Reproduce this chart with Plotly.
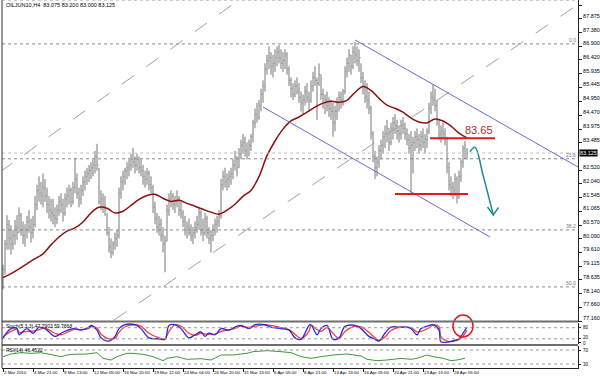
import plotly.graph_objects as go

# ---------------- data ----------------
high = [79.17,80.05,80.92,80.75,80.57,80.40,80.75,80.92,81.20,81.00,
        80.70,80.60,80.90,81.10,80.80,80.90,81.60,82.00,82.30,82.10,
        82.40,82.20,81.90,81.60,81.50,81.50,81.20,81.30,81.60,81.70,
        81.50,81.70,81.90,82.00,81.90,82.10,82.95,82.40,81.90,82.00,
        82.30,82.50,82.60,82.70,82.80,82.90,83.20,83.45,82.60,81.80,
        81.70,81.60,81.00,80.50,80.10,80.00,80.30,80.40,81.90,82.30,
        82.50,82.60,82.80,82.90,83.10,83.30,83.00,83.10,83.00,82.90,
        82.70,82.50,82.60,82.50,82.30,82.00,81.40,81.00,80.90,80.80,
        80.50,80.20,81.30,81.70,81.80,81.70,81.60,81.80,81.60,81.40,
        81.10,80.90,80.70,80.80,80.60,80.50,80.70,80.90,81.20,81.10,
        80.80,81.00,80.90,80.50,80.40,80.60,80.80,80.90,81.10,82.20,
        82.50,82.60,82.40,82.50,82.60,82.90,83.20,83.00,83.30,83.60,
        83.80,83.70,83.50,83.60,83.80,84.30,84.70,84.90,85.00,85.40,
        85.70,86.30,86.60,86.90,86.70,86.60,86.80,86.90,86.95,86.80,
        86.70,86.80,86.70,86.20,85.80,85.60,85.70,85.80,85.60,85.30,
        85.20,85.50,85.60,85.30,85.70,86.00,86.20,85.80,86.30,85.90,
        85.40,85.20,85.30,85.10,85.00,84.90,84.80,85.10,85.30,85.30,
        85.40,86.20,86.50,86.80,86.60,86.90,87.06,86.90,86.80,86.30,
        86.00,85.70,85.60,85.30,84.80,83.90,83.20,83.00,83.40,83.60,
        83.90,84.10,84.30,84.00,84.20,84.40,84.50,84.30,84.10,84.30,
        84.40,84.20,84.00,83.80,83.90,83.70,83.90,84.00,83.80,83.90,
        84.00,83.80,84.00,84.90,85.30,85.55,85.40,85.00,84.30,84.10,
        84.20,84.00,83.70,82.80,82.30,82.10,82.40,82.30,82.50,82.90,
        83.40,83.55,83.30]
low = [78.29,78.82,79.70,79.70,79.52,79.70,79.87,80.05,80.30,80.20,
       79.90,79.80,80.10,80.30,79.95,80.10,80.50,81.10,81.40,81.30,
       81.20,81.40,81.00,80.80,80.70,80.60,80.50,80.60,80.90,81.00,
       80.70,80.90,81.20,81.30,81.20,81.30,81.70,81.50,81.20,81.30,
       81.60,81.80,82.00,82.10,82.20,82.30,82.40,82.50,81.30,81.10,
       81.00,80.90,80.20,79.60,79.40,79.50,79.70,79.80,80.10,81.50,
       81.80,82.00,82.20,82.30,82.50,82.60,82.40,82.50,82.40,82.30,
       82.00,81.90,82.00,81.80,81.70,81.00,80.60,80.30,80.20,80.00,
       79.60,78.90,80.00,80.90,81.20,81.10,81.00,81.20,80.90,80.80,
       80.50,80.20,80.10,80.20,80.00,79.90,80.10,80.30,80.40,80.20,
       80.00,80.20,80.10,79.90,79.60,80.00,80.20,80.30,80.50,80.80,
       81.80,81.90,81.80,81.90,82.00,82.20,82.50,82.30,82.60,82.90,
       83.10,83.00,82.90,83.00,83.20,83.50,84.00,84.20,84.30,84.60,
       84.90,85.30,85.90,86.10,85.90,85.80,86.00,86.20,86.30,86.10,
       86.00,86.10,85.90,85.50,85.10,85.00,85.10,85.20,84.90,84.60,
       84.50,84.80,84.90,84.60,84.90,85.30,85.50,84.30,85.50,85.00,
       84.70,84.50,84.60,84.40,84.30,83.70,83.90,84.30,84.60,84.70,
       84.80,85.20,85.80,86.00,85.90,86.10,86.30,86.20,86.00,85.60,
       85.20,84.90,84.70,84.50,83.60,82.80,82.20,82.30,82.60,82.90,
       83.10,83.30,83.50,83.20,83.40,83.60,83.80,83.60,83.50,83.60,
       83.80,83.60,83.40,83.10,81.70,82.40,83.20,83.30,83.10,83.20,
       83.30,83.10,83.30,83.80,84.50,84.80,84.60,84.10,83.60,83.50,
       83.60,83.40,82.40,81.80,81.60,81.50,81.60,81.34,81.50,82.10,
       82.60,82.90,82.90]
close = [79.00,79.90,80.60,80.10,79.90,80.20,80.50,80.30,80.90,80.40,
         80.20,80.40,80.70,80.50,80.30,80.60,81.30,81.80,81.70,81.60,
         81.90,81.60,81.30,81.10,81.00,80.90,80.80,81.10,81.40,81.30,
         81.00,81.50,81.60,81.80,81.40,81.90,82.20,81.70,81.50,81.80,
         82.10,82.30,82.40,82.50,82.60,82.70,83.00,82.70,81.40,81.50,
         81.20,81.10,80.30,79.80,79.60,79.90,80.10,80.20,81.70,82.10,
         82.30,82.50,82.60,82.70,82.90,82.80,82.70,82.90,82.60,82.50,
         82.30,82.20,82.40,82.00,81.90,81.20,80.80,80.50,80.60,80.20,
         79.90,80.00,81.10,81.50,81.60,81.30,81.40,81.50,81.10,81.00,
         80.70,80.40,80.50,80.30,80.20,80.30,80.50,80.60,81.00,80.40,
         80.30,80.80,80.30,80.10,80.20,80.40,80.60,80.70,80.90,82.00,
         82.30,82.10,82.20,82.30,82.40,82.70,83.00,82.60,83.10,83.40,
         83.50,83.20,83.10,83.40,83.70,84.20,84.50,84.40,84.80,85.20,
         85.50,86.10,86.40,86.50,86.20,86.30,86.50,86.70,86.50,86.30,
         86.40,86.60,86.10,85.70,85.40,85.20,85.50,85.30,85.10,84.90,
         85.00,85.30,85.10,85.00,85.50,85.80,85.70,85.60,85.90,85.20,
         84.90,85.00,84.80,84.70,84.60,84.20,84.60,84.90,85.10,85.00,
         85.30,86.00,86.30,86.60,86.20,86.70,86.60,86.40,86.50,85.80,
         85.50,85.10,85.00,84.70,83.80,83.00,82.60,82.80,83.20,83.40,
         83.70,83.80,84.00,83.50,84.00,84.20,84.10,83.90,83.80,84.10,
         84.00,83.80,83.60,83.30,83.40,83.50,83.70,83.60,83.40,83.70,
         83.50,83.60,83.90,84.70,85.10,85.00,84.80,84.30,83.80,83.90,
         83.80,83.60,82.60,82.00,81.90,81.80,82.20,81.60,82.30,82.80,
         83.30,83.10,83.125]
bars = list(range(len(close)))
opens = [78.60] + close[:-1]

ma_step = 4
ma_vals = [78.71,78.85,79.02,79.20,79.38,79.55,79.87,80.15,80.36,80.47,
           80.68,81.00,81.20,81.17,81.00,81.06,81.27,81.48,81.62,81.66,
           81.52,81.41,81.45,81.34,81.24,81.13,81.03,80.96,81.10,81.31,
           81.59,81.80,82.29,83.03,83.55,83.97,84.26,84.40,84.57,84.75,
           84.89,84.96,84.92,84.99,85.27,85.48,85.34,85.06,84.82,84.71,
           84.57,84.36,84.22,84.19,84.33,84.26,84.08,83.83,83.66]
ma_bars = list(range(0, len(close), ma_step))

stoch_bars = [0,4,7,8,12,15,18,21,26,29,33,36,39,43,44,47,49,53,56,58,
              61,66,69,73,78,81,83,86,89,93,96,99,101,103,106,109,113,116,119,123,
              126,131,134,139,143,146,149,153,154,157,159,162,165,168,171,176,179,183,186,188,
              191,194,198,201,204,207,209,213,215,218,219,223,226,228,230,232]
stoch_main = [25,75,75,42,75,50,83,75,33,50,70,75,67,83,92,67,25,8,33,75,
              96,96,75,25,20,17,92,96,75,25,42,58,33,50,42,75,67,83,92,75,
              96,96,83,75,67,25,17,92,96,42,75,92,17,25,87,92,75,33,17,8,
              50,83,83,83,75,42,75,92,96,67,4,4,13,20,50,83]
stoch_signal = [30,60,72,55,60,62,70,78,50,42,60,72,70,76,86,78,45,20,22,55,
                85,96,88,50,25,20,60,95,88,50,38,50,45,45,45,60,68,76,88,82,
                88,96,92,80,70,45,22,60,92,70,60,80,50,22,60,88,85,55,25,12,
                30,65,82,83,80,58,60,80,95,85,30,5,8,15,35,65]

rsi_bars = [0,4,9,14,19,24,29,32,35,42,47,50,54,57,62,65,70,75,80,82,
            87,92,99,104,109,115,122,125,132,139,144,149,154,159,165,172,179,182,187,192,
            199,204,207,212,215,220,224,227,231]
rsi_vals = [51,58.6,62.4,60.5,62.4,55.7,51,55.7,57.6,58.6,62.4,46.2,41.4,51,60.5,60.5,57.6,51,39.5,46.2,
            51,43.3,45.2,41.4,55.7,55.7,60.5,65.2,68.1,65.2,62.4,51,46.2,51,55.7,58.6,52.9,43.3,39.5,41.4,
            46.2,43.3,46.2,55.7,51,46.2,39.5,41.4,46.45]

date_labels = ["2 Mar 2010", "4 Mar 21:00", "9 Mar 13:00", "12 Mar 05:00", "16 Mar 20:00",
               "19 Mar 12:00", "24 Mar 04:00", "26 Mar 20:00", "31 Mar 13:00", "6 Apr 05:00",
               "8 Apr 21:00", "13 Apr 13:00", "16 Apr 05:00", "20 Apr 21:00", "23 Apr 13:00",
               "28 Apr 05:00"]
date_bars = [0, 15, 30, 45, 60, 75, 90, 105, 120, 135, 150, 165, 180, 195, 210, 225]

price_ticks = [88.355, 87.875, 87.380, 86.900, 86.420, 85.935, 85.445, 84.950, 84.470,
               83.975, 83.485, 82.520, 82.040, 81.545, 81.065, 80.570, 80.090, 79.610,
               79.115, 78.635, 78.140, 77.660, 77.160]
last_price = 83.125
fib_levels = [86.99, 82.92, 80.40, 78.38]
fib_labels = ["0.0", "23.6", "38.2", "50.0"]
stoch_levels = [80, 20, 0]
rsi_levels = [70, 30]
resistance = 83.65
support = 81.67
resistance_span = [213.5, 246]
support_span = [196, 232.5]
chan_upper = [(176, 87.128), (287.5, 82.629)]
chan_lower = [(130, 84.754), (243.5, 80.149)]
dash_mid = [(55.5, 77.209), (287.5, 88.389)]
dash_top = [(-1.5, 82.452), (123.5, 88.83)]
arrow_path = [(233.5, 83.171), (236, 83.327), (240, 82.346), (245.15, 80.929)]
arrow_head = [(242.25, 81.212), (245.15, 80.929), (247.75, 81.194)]
circle_bars = [225, 235]

# ---------------- layout helpers ----------------
W, H = 600, 376
ML, MR, MT, MB = 2, 22, 0, 8
PW, PH = W - ML - MR, H - MT - MB


def py(p):  # pixel y (from top of plot area) -> paper
    return (PH - p) / PH


def pxx(p):
    return (p - ML) / PW


FONT = "Liberation Sans"
fig = go.Figure()

fig.add_trace(go.Ohlc(x=bars, open=opens, high=high, low=low, close=close,
                      increasing_line_color="#767676", decreasing_line_color="#767676",
                      line_width=1, tickwidth=0.25, hoverinfo="skip", xaxis="x", yaxis="y"))
fig.add_trace(go.Scatter(x=ma_bars, y=ma_vals, mode="lines", line=dict(color="#8b1010", width=1.5, shape="spline"),
                         hoverinfo="skip", xaxis="x", yaxis="y"))
fig.add_trace(go.Scatter(x=[a for a, b in arrow_path], y=[b for a, b in arrow_path], mode="lines",
                         line=dict(color="#238c93", width=1.5, shape="spline"), hoverinfo="skip", yaxis="y"))
fig.add_trace(go.Scatter(x=[a for a, b in arrow_head], y=[b for a, b in arrow_head], mode="lines",
                         line=dict(color="#238c93", width=1.5), hoverinfo="skip", yaxis="y"))
fig.add_trace(go.Scatter(x=stoch_bars, y=stoch_signal, mode="lines", line=dict(color="#ff3b3b", width=1.3, shape="spline"),
                         hoverinfo="skip", yaxis="y2"))
fig.add_trace(go.Scatter(x=stoch_bars, y=stoch_main, mode="lines", line=dict(color="#2b2bd9", width=1.3, shape="spline"),
                         hoverinfo="skip", yaxis="y2"))
fig.add_trace(go.Scatter(x=rsi_bars, y=rsi_vals, mode="lines", line=dict(color="#3c9a3c", width=1),
                         hoverinfo="skip", yaxis="y3"))

shapes = []
for lv in fib_levels:
    shapes.append(dict(type="line", xref="paper", x0=0, x1=1, yref="y", y0=lv, y1=lv,
                       line=dict(color="#8a8a8a", width=1, dash="dot")))
shapes.append(dict(type="line", xref="paper", x0=0, x1=1, yref="y", y0=last_price, y1=last_price,
                   line=dict(color="#c4c4c4", width=1, dash="dot")))
for lv in (20, 80):
    shapes.append(dict(type="line", xref="paper", x0=0, x1=1, yref="y2", y0=lv, y1=lv,
                       line=dict(color="#9a9a9a", width=1, dash="dot")))
for lv in rsi_levels:
    shapes.append(dict(type="line", xref="paper", x0=0, x1=1, yref="y3", y0=lv, y1=lv,
                       line=dict(color="#9a9a9a", width=1, dash="dot")))
for seg in (dash_mid, dash_top):
    shapes.append(dict(type="line", xref="x", yref="y", x0=seg[0][0], y0=seg[0][1], x1=seg[1][0], y1=seg[1][1],
                       line=dict(color="#a0a0a0", width=1, dash="longdash")))
for seg in (chan_upper, chan_lower):
    shapes.append(dict(type="line", xref="x", yref="y", x0=seg[0][0], y0=seg[0][1], x1=seg[1][0], y1=seg[1][1],
                       line=dict(color="#6a6ad8", width=1)))
shapes.append(dict(type="line", xref="x", yref="y", x0=resistance_span[0], x1=resistance_span[1],
                   y0=resistance, y1=resistance, line=dict(color="#e3191c", width=2)))
shapes.append(dict(type="line", xref="x", yref="y", x0=support_span[0], x1=support_span[1],
                   y0=support, y1=support, line=dict(color="#e3191c", width=2)))
shapes.append(dict(type="circle", xref="x", yref="paper", x0=circle_bars[0], x1=circle_bars[1],
                   y0=py(337), y1=py(315), line=dict(color="#e3191c", width=1.5)))
for yy in (321.5, 345):
    shapes.append(dict(type="line", xref="paper", yref="paper", x0=0, x1=1, y0=py(yy), y1=py(yy),
                       line=dict(color="#6e6e6e", width=2)))
shapes.append(dict(type="line", xref="paper", yref="paper", x0=0, x1=0, y0=0, y1=1,
                   line=dict(color="#333333", width=1)))
shapes.append(dict(type="line", xref="paper", yref="paper", x0=0, x1=1, y0=1, y1=1,
                   line=dict(color="#9a9a9a", width=1, dash="dot")))

ann = []
ann.append(dict(xref="paper", yref="paper", x=pxx(4), y=py(5), text="OILJUN10,H4  83.075 83.200 83.000 83.125",
                showarrow=False, xanchor="left", yanchor="middle", font=dict(size=5.5, color="#000", family=FONT)))
ann.append(dict(xref="paper", yref="paper", x=pxx(4), y=py(326), text="Stoch(5,3,3) 47.7903 59.7668",
                showarrow=False, xanchor="left", yanchor="middle", font=dict(size=5, color="#000", family=FONT)))
ann.append(dict(xref="paper", yref="paper", x=pxx(4), y=py(349.5), text="RSI(14) 46.4522",
                showarrow=False, xanchor="left", yanchor="middle", font=dict(size=5, color="#000", family=FONT)))
for lv, lab in zip(fib_levels, fib_labels):
    ann.append(dict(xref="paper", yref="y", x=1, y=lv, text=lab, showarrow=False, xanchor="right",
                    yanchor="bottom", font=dict(size=5, color="#777", family=FONT), yshift=-1))
ann.append(dict(xref="x", yref="y", x=resistance_span[1], y=resistance, text="83.65", showarrow=False,
                xanchor="right", yanchor="bottom", font=dict(size=11, color="#b12a2a", family=FONT), yshift=0))
ann.append(dict(xref="paper", yref="y", x=1, y=last_price, text="83.125", showarrow=False, xanchor="left",
                yanchor="middle", bgcolor="#000000", borderpad=0, xshift=1,
                font=dict(size=5.5, color="#ffffff", family=FONT)))
stoch_label_shift = {80: 0, 20: 1, 0: -1}
for lv in stoch_levels:
    ann.append(dict(xref="paper", yref="y2", x=1, y=lv, text=str(lv), showarrow=False, xanchor="left",
                    yanchor="middle", xshift=3, yshift=stoch_label_shift[lv],
                    font=dict(size=4.5, color="#000", family=FONT)))
for lv in rsi_levels:
    ann.append(dict(xref="paper", yref="y3", x=1, y=lv, text=str(lv), showarrow=False, xanchor="left",
                    yanchor="middle", xshift=3, font=dict(size=4.5, color="#000", family=FONT)))

axis_font = dict(size=5.5, color="#000", family=FONT)
fig.update_layout(
    width=W, height=H, margin=dict(l=ML, r=MR, t=MT, b=MB),
    paper_bgcolor="white", plot_bgcolor="white", showlegend=False,
    shapes=shapes, annotations=ann,
    xaxis=dict(range=[-0.5, 287.5], anchor="y3", domain=[0, 1], showgrid=False, zeroline=False,
               showline=True, linecolor="#222", linewidth=1, ticks="outside", ticklen=3, tickcolor="#222",
               tickvals=date_bars, ticktext=date_labels, tickfont=dict(size=4.4, color="#000", family=FONT),
               tickangle=0, ticklabelposition="outside right", rangeslider=dict(visible=False), fixedrange=True),
    yaxis=dict(domain=[py(322), 1], range=[77.138, 88.545], side="right", showgrid=False, zeroline=False,
               showline=True, linecolor="#222", ticks="outside", ticklen=3, tickcolor="#222",
               tickvals=price_ticks, ticktext=[f"{v:.3f}" for v in price_ticks], tickfont=axis_font,
               ticklabelshift=-3, anchor="x"),
    yaxis2=dict(domain=[py(344), py(323)], range=[-8.1, 105.4], side="right", showgrid=False, zeroline=False,
                showline=True, linecolor="#222", ticks="outside", ticklen=2, tickcolor="#222",
                tickvals=stoch_levels, showticklabels=False, anchor="x"),
    yaxis3=dict(domain=[0, py(346)], range=[18.57, 81.43], side="right", showgrid=False, zeroline=False,
                showline=True, linecolor="#222", ticks="outside", ticklen=2, tickcolor="#222",
                tickvals=rsi_levels, showticklabels=False, anchor="x"),
)

fig.write_html("out.html")
